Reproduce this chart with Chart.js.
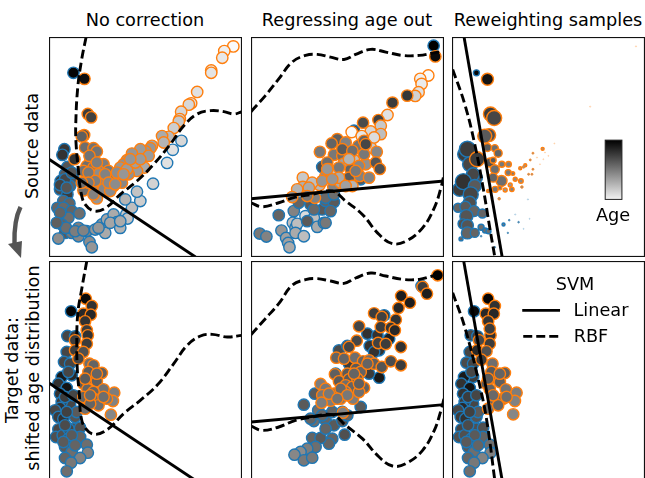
<!DOCTYPE html>
<html><head><meta charset="utf-8">
<style>
html,body{margin:0;padding:0;background:#fff;width:645px;height:478px;overflow:hidden;position:relative}
canvas{position:absolute;display:block}
.t{position:absolute;font-family:"DejaVu Sans";color:#000;white-space:nowrap;font-size:17.7px;line-height:20px;transform:translate(-50%,-50%)}
.r{transform:translate(-50%,-50%) rotate(-90deg)}
svg{position:absolute;left:0;top:0}
</style>
<script src="https://cdn.jsdelivr.net/npm/chart.js@4"></script>
</head><body>
<canvas id="c0" width="193" height="220" style="left:49px;top:37px"></canvas>
<canvas id="c1" width="193" height="220" style="left:251px;top:37px"></canvas>
<canvas id="c2" width="193" height="220" style="left:452px;top:37px"></canvas>
<canvas id="c3" width="193" height="220" style="left:49px;top:261px"></canvas>
<canvas id="c4" width="193" height="220" style="left:251px;top:261px"></canvas>
<canvas id="c5" width="193" height="220" style="left:452px;top:261px"></canvas>
<div class="t" style="left:145px;top:20px">No correction</div>
<div class="t" style="left:347px;top:20px">Regressing age out</div>
<div class="t" style="left:548px;top:20px">Reweighting samples</div>
<div class="t r" style="left:32px;top:146px">Source data</div>
<div class="t r" style="left:12px;top:370px">Target data:</div>
<div class="t r" style="left:33px;top:368px">shifted age distribution</div>
<div class="t" style="left:613px;top:215px">Age</div>
<div class="t" style="left:575px;top:284px">SVM</div>
<div class="t" style="left:601px;top:310px">Linear</div>
<div class="t" style="left:591px;top:336px">RBF</div>
<svg width="40" height="270" viewBox="0 0 40 270"><path d="M20.5 207 C16 216 14 228 14.5 244" fill="none" stroke="#555" stroke-width="4.4"/><path d="M8 244 L22 241 L21 258 Z" fill="#555"/></svg>
<script>
// values are [x, y, gray]; panel 3 also has a size
const p1Blue=[[100,127,5],[73,355,55],[67,372,50],[82,408,85],[75,430,90],[100,440,90],[62,450,55],[60,475,75],[90,465,100],[82,490,60],[70,510,100],[88,517,100],[52,530,100],[70,530,105],[95,540,100],[118,547,110],[68,555,100],[85,560,110],[65,580,100],[75,605,90],[55,622,140],[95,605,120],[115,590,125],[115,615,135],[140,600,130],[148,632,140],[155,648,150],[165,595,150],[185,580,150],[195,605,170],[200,565,165],[220,550,170],[230,573,170],[240,590,180],[258,550,200],[262,562,195],[275,530,190],[300,510,205],[255,505,180],[290,482,195],[338,458,210],[380,396,225],[397,357,225],[423,330,215],[75,445,70],[60,462,65],[95,425,85],[80,470,85],[60,545,100],[78,590,110],[105,600,125],[130,598,130],[175,590,150],[210,575,165],[240,570,170],[50,575,95]];
const p1Orange=[[133,145,15],[143,250,60],[153,260,65],[132,313,85],[125,317,95],[135,350,110],[160,352,115],[170,362,115],[103,385,50],[150,392,120],[140,405,110],[190,400,125],[175,420,135],[160,410,120],[205,420,120],[150,440,125],[175,430,140],[140,470,120],[180,465,120],[155,475,130],[185,455,135],[130,478,110],[220,465,135],[578,48,250],[551,62,240],[545,82,232],[512,120,235],[512,127,228],[470,184,225],[452,218,222],[445,222,215],[422,243,215],[418,265,205],[415,272,200],[400,292,205],[385,318,185],[365,316,170],[370,335,180],[335,345,165],[330,352,150],[316,362,150],[300,355,155],[275,368,150],[260,388,150],[325,375,155],[312,410,170],[275,400,165],[290,420,155],[250,400,145],[240,410,150],[265,430,145],[235,440,150],[245,455,135],[215,445,125],[190,475,135],[210,480,140],[170,502,150],[160,490,130],[148,375,115],[170,395,125],[130,420,115],[145,425,120],[195,430,130],[165,450,125],[205,455,135],[230,425,140],[145,455,120],[125,455,110],[260,415,155],[285,395,160],[300,385,155],[270,385,150],[225,460,140],[250,430,150]];
const p2Blue=[[563,46,0],[43,607,120],[63,616,130],[108,598,150],[122,620,160],[128,635,160],[132,648,170],[100,552,100],[145,540,130],[142,575,190],[150,590,165],[155,578,190],[150,605,170],[175,615,190],[180,555,220],[205,560,190],[215,587,170],[235,575,140],[240,575,120],[185,570,90],[230,535,90],[195,520,90],[160,515,100],[240,510,100],[265,513,90],[240,500,105],[205,535,105],[230,408,80],[325,300,70],[345,445,90],[265,490,110],[255,540,100]];
const p2Orange=[[568,78,10],[547,135,250],[523,145,240],[527,160,235],[518,185,225],[508,196,210],[484,195,55],[440,216,60],[425,253,225],[398,268,65],[352,276,75],[405,285,200],[375,302,215],[405,310,190],[318,304,250],[348,316,230],[275,325,95],[258,338,100],[300,335,130],[338,345,115],[375,350,200],[393,363,135],[223,363,120],[265,372,120],[290,375,110],[325,388,190],[295,398,160],[360,400,145],[390,395,85],[402,414,80],[245,395,110],[250,415,170],[268,425,190],[240,435,140],[340,405,135],[315,415,100],[310,440,90],[342,435,130],[370,440,130],[172,440,200],[172,468,175],[155,475,180],[222,462,185],[200,455,190],[263,467,130],[285,455,170],[320,465,180],[140,498,150],[208,500,130],[290,355,90],[320,360,110],[355,370,120],[310,385,180],[330,420,120],[280,410,120],[245,415,150],[230,450,150],[280,440,170],[300,465,160],[260,445,150],[190,470,170],[185,495,120],[355,330,100],[385,320,220],[360,340,70]];
const p3Blue=[[95,127,5,3],[60,370,60,7],[68,355,60,8],[76,400,70,7.5],[95,440,80,6],[85,430,70,6.5],[45,475,60,7],[56,452,50,8],[90,465,90,6.5],[78,490,70,7.5],[75,515,80,6.5],[40,530,100,4.5],[62,527,90,5.5],[88,540,100,5.5],[65,555,85,6.5],[113,547,100,4.5],[55,578,80,5],[68,583,85,6],[68,605,100,6],[90,605,100,4.5],[49,623,100,2],[109,588,110,3],[121,598,110,2.5],[131,600,110,2.5],[176,580,120,1.5],[193,567,150,.8],[221,573,150,.8],[211,550,190,.6],[249,505,190,.6],[254,563,190,.5],[189,605,170,.7],[109,615,150,.8],[150,648,150,.8],[236,593,180,.5]];
const p3Orange=[[128,146,20,6],[137,250,60,7],[148,262,70,7.5],[133,313,80,6.5],[120,316,90,7],[128,350,90,4],[150,352,110,3.5],[160,367,100,4],[97,385,60,7.5],[135,395,80,4.5],[145,388,90,3],[171,400,120,3],[191,400,130,2.8],[150,415,110,4.5],[204,428,120,1.8],[170,450,110,5.5],[145,440,100,4.5],[190,425,120,3],[165,470,120,2],[151,475,120,3],[201,475,130,2.2],[228,450,140,2.3],[181,477,150,2],[196,462,150,2],[211,445,140,2],[130,480,130,1.5],[163,503,150,1.3],[293,354,150,1.5],[264,367,150,1],[256,387,150,1],[241,403,150,1.5],[226,412,150,1.5],[236,408,150,1.3],[264,415,150,1],[251,430,150,1],[261,430,150,1],[231,468,150,1.3],[276,380,210,.6],[285,400,210,.5],[435,228,180,.6],[572,48,200,.6],[328,338,180,.5],[310,375,180,.5],[295,385,180,.5],[300,365,210,.5]];
const p4Blue=[[93,168,5],[82,242,70],[105,243,60],[80,290,70],[72,320,70],[90,325,70],[95,360,40],[65,365,25],[55,385,50],[80,398,20],[60,415,50],[90,445,70],[65,440,60],[60,458,50],[45,465,70],[55,485,60],[70,490,50],[105,485,85],[100,520,80],[120,517,80],[55,522,70],[48,545,80],[68,540,80],[85,550,70],[120,545,100],[75,575,90],[140,568,110],[143,592,130],[95,590,110],[120,608,130],[75,608,100],[93,622,120],[80,648,110],[110,470,90],[85,520,70],[85,350,70],[75,425,60],[100,420,70],[80,470,65],[75,510,75],[95,540,90],[70,560,90],[105,570,100]];
const p4Orange=[[137,130,10],[155,152,50],[130,175,40],[152,178,40],[135,198,50],[140,225,60],[143,240,50],[140,265,60],[105,255,60],[105,285,60],[130,290,80],[115,310,70],[148,325,110],[160,330,100],[185,353,95],[155,368,100],[170,378,95],[130,385,90],[142,402,100],[190,402,115],[160,410,100],[222,412,125],[130,425,100],[160,430,110],[180,432,110],[218,437,130],[135,460,110],[175,450,110],[212,478,135],[150,445,100],[200,430,120],[145,350,90],[135,370,90],[170,355,100],[190,425,110],[150,420,105]];
const p5Blue=[[527,92,70],[400,367,25],[175,448,90],[345,455,90],[297,538,80],[260,550,100],[250,565,100],[200,548,100],[225,548,90],[210,575,110],[185,580,125],[165,590,140],[147,598,135],[175,615,120],[200,607,120],[205,497,110],[240,495,100],[265,510,90],[290,497,80],[305,480,100],[195,490,100],[218,465,110],[208,415,90],[280,285,75],[305,272,70],[415,180,60],[365,235,50],[395,240,50],[430,250,30],[372,272,50],[400,285,50],[360,330,40],[370,355,60],[240,520,100],[230,480,100],[260,470,100],[290,470,90],[310,325,60],[340,355,55],[385,290,50],[270,355,80],[250,430,110]];
const p5Orange=[[575,60,0],[530,95,60],[543,115,30],[466,122,30],[492,142,30],[458,158,40],[385,174,60],[408,185,65],[450,193,50],[405,215,60],[340,213,70],[435,217,55],[447,225,40],[333,256,70],[397,263,65],[420,266,60],[465,275,50],[310,275,70],[272,307,100],[295,310,100],[328,307,110],[352,318,100],[370,315,110],[385,325,95],[408,335,85],[435,318,75],[465,330,60],[331,340,90],[345,350,100],[268,357,95],[305,355,90],[280,378,90],[310,372,90],[225,386,125],[355,397,100],[240,400,120],[300,390,110],[320,395,100],[265,415,110],[230,420,120],[255,436,125],[285,430,120],[322,430,125],[228,442,125],[292,472,130],[335,370,95],[325,355,100],[300,410,115],[340,410,110],[285,400,105],[305,420,120],[250,415,120],[275,430,115],[340,385,95],[365,325,100]];
const p6Blue=[[88,168,10],[78,240,70],[98,243,60],[75,290,70],[65,322,75],[85,325,70],[85,365,60],[58,365,25],[50,385,50],[75,398,20],[55,415,50],[85,445,70],[60,440,60],[53,458,40],[40,465,70],[48,485,60],[62,490,50],[95,485,85],[95,520,80],[115,517,80],[50,522,70],[43,545,80],[60,540,80],[80,550,70],[115,545,100],[70,575,90],[135,568,110],[137,592,130],[88,590,110],[113,608,130],[70,608,100],[88,622,120],[75,648,110],[100,470,90],[80,350,70],[70,425,60],[95,420,70],[75,470,65],[70,510,75],[90,540,90],[65,560,90],[100,570,100]];
const p6Orange=[[130,130,5],[150,152,50],[123,175,40],[147,175,40],[130,198,50],[137,240,50],[135,265,60],[103,255,70],[97,285,40],[125,288,80],[110,313,60],[143,325,110],[180,353,95],[150,367,100],[165,380,95],[125,385,90],[135,402,100],[183,402,115],[153,430,110],[215,412,125],[210,437,130],[175,430,110],[205,477,135],[145,445,100],[130,460,110],[160,450,100],[140,350,90],[130,370,90],[165,355,100],[185,425,110],[145,420,105],[135,220,60]];
const p1Linear=[[27,385],[465,677]];
const p2Linear=[[17,503],[594,450]];
const p3Linear=[[58,20],[172,677]];
const p4Linear=[[27,383],[475,682]];
const p5Linear=[[17,500],[594,448]];
const p6Linear=[[57,17],[172,675]];
const p1Rbf=[[[138,20],[125,85],[113,170],[107,280],[108,340],[115,420],[122,480],[135,520],[165,540],[200,528],[240,490],[290,450],[340,400],[390,340],[430,285],[470,250],[510,240],[550,243],[580,250],[604,243]]];
const p2Rbf=[[[17,243],[60,195],[100,145],[140,95],[180,75],[215,72],[255,80],[295,87],[330,72],[375,57],[420,65],[470,75],[520,75],[560,68],[594,62]],[[17,515],[50,527],[100,515],[150,498],[200,490],[260,480],[300,510],[350,550],[400,610],[440,637],[480,630],[530,590],[565,530],[585,470],[594,430]]];
const p3Rbf=[[[24,117],[60,220],[90,340],[115,470],[135,590],[150,677]]];
const p4Rbf=[[[140,17],[125,100],[113,175],[110,270],[112,350],[118,420],[122,480],[135,518],[165,537],[205,520],[250,475],[300,435],[350,390],[400,325],[440,270],[480,242],[515,237],[560,245],[604,240]]];
const p5Rbf=[[[17,238],[60,190],[100,145],[140,90],[180,73],[215,70],[255,77],[295,84],[330,68],[375,53],[420,62],[470,72],[520,72],[560,62],[594,55]],[[17,512],[50,525],[100,515],[150,495],[200,485],[260,478],[300,510],[350,550],[400,605],[440,632],[480,625],[530,585],[565,525],[585,465],[594,430]]];
const p6Rbf=[[[24,112],[60,215],[100,370],[125,490],[150,675]]];
const legendLinear=[[232,165],[345,165]];
const legendRbf=[[235,243],[345,243]];
const ageBarX=[480,530];
const ageBarY=[328,505];
const xRanges=[[27,604],[17,594],[22,599],[27,604],[17,594],[22,599]];
const yRanges=[[20,677],[20,677],[20,677],[17,677],[17,677],[17,677]];
const BLUE='#1f77b4',ORANGE='#ff7f0e';
const PALE_BLUE='rgba(31,119,180,.35)',PALE_ORANGE='rgba(255,127,14,.35)';
const pts=a=>a.map(p=>({x:p[0],y:p[1],g:p[2],r:p[3]}));
const dotSet=(a,edge,pale)=>({type:'scatter',data:pts(a),order:5,
  pointBackgroundColor:c=>{const g=c.raw.g;return c.raw.r&&c.raw.r<=.6?'rgba(0,0,0,0)':`rgb(${g},${g},${g})`;},
  pointBorderColor:c=>c.raw.r&&c.raw.r<=.6?pale:edge,pointBorderWidth:c=>c.raw.r&&c.raw.r<1.5?0.8:1.4,
  pointRadius:c=>c.raw.r||5.7,pointHoverRadius:c=>c.raw.r||5.7,showLine:false});
const lineSet=(a,dash,tension)=>({type:'line',data:pts(a),order:1,borderColor:'#000',borderWidth:2.9,borderDash:dash,tension:tension,pointRadius:0,pointHoverRadius:0,fill:false,borderCapStyle:'butt'});
const frame={id:'frame',afterDraw(ch){const c=ch.ctx;c.save();c.strokeStyle='#111';c.lineWidth=1.2;c.strokeRect(.5,.5,ch.width-1,ch.height-1);c.restore();}};
const ageBar={id:'ageBar',afterDatasetsDraw(ch){
  const c=ch.ctx,x=ch.scales.x,y=ch.scales.y;
  const l=x.getPixelForValue(ageBarX[0]),r=x.getPixelForValue(ageBarX[1]),t=y.getPixelForValue(ageBarY[0]),b=y.getPixelForValue(ageBarY[1]);
  const g=c.createLinearGradient(0,t,0,b);g.addColorStop(0,'#000');g.addColorStop(1,'#f2f2f2');
  c.save();c.fillStyle=g;c.fillRect(l,t,r-l,b-t);c.strokeStyle='#222';c.lineWidth=1;c.strokeRect(l,t,r-l,b-t);c.restore();}};
const panels=[[p1Blue,p1Orange,p1Linear,p1Rbf],[p2Blue,p2Orange,p2Linear,p2Rbf],[p3Blue,p3Orange,p3Linear,p3Rbf],[p4Blue,p4Orange,p4Linear,p4Rbf],[p5Blue,p5Orange,p5Linear,p5Rbf],[p6Blue,p6Orange,p6Linear,p6Rbf]];
panels.forEach((p,i)=>{
  const ds=[lineSet(p[2],[],0)];
  p[3].forEach(seg=>ds.push(lineSet(seg,[9,4],0.4)));
  if(i===5){ds.push(lineSet(legendLinear,[],0));ds.push(lineSet(legendRbf,[9,4],0));}
  ds.push(Object.assign(dotSet(p[1],ORANGE,PALE_ORANGE),{order:5}));
  ds.push(Object.assign(dotSet(p[0],BLUE,PALE_BLUE),{order:6}));
  new Chart(document.getElementById('c'+i),{type:'scatter',data:{datasets:ds},plugins:i===2?[ageBar,frame]:[frame],
    options:{responsive:false,animation:false,events:[],layout:{padding:0,autoPadding:false},
      plugins:{legend:{display:false},title:{display:false},tooltip:{enabled:false}},
      scales:{x:{type:'linear',display:false,min:xRanges[i][0],max:xRanges[i][1]},
              y:{type:'linear',display:false,reverse:true,min:yRanges[i][0],max:yRanges[i][1]}}}});
});
</script>
</body></html>
